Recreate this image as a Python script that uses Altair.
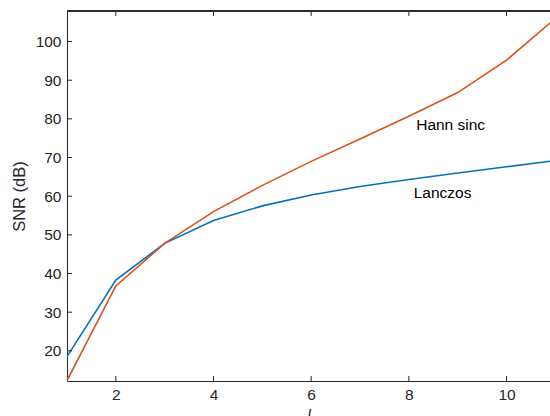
import altair as alt
import pandas as pd

# data
l_values = [1, 2, 3, 4, 5, 6, 7, 8, 9, 10, 11]
lanczos = [18.5, 38.3, 47.8, 53.7, 57.5, 60.3, 62.5, 64.3, 66.0, 67.6, 69.2]
hann = [12.3, 36.8, 47.8, 56.0, 62.8, 69.0, 74.8, 80.7, 86.8, 95.2, 106.0]
series_names = ["Lanczos", "Hann sinc"]
series_colors = ["#0072BD", "#D95319"]

label_text = ["Hann sinc", "Lanczos"]
label_x = [8.15, 8.1]
label_y = [78.4, 60.9]

x_ticks = [2, 4, 6, 8, 10]
y_ticks = [20, 30, 40, 50, 60, 70, 80, 90, 100]

X_DOMAIN = [1, 10.89]
Y_DOMAIN = [12.2, 107.9]
W, H = 483, 370
AX = "#262626"
FONT = "Liberation Sans"

rows = []
for name, vals in zip(series_names, [lanczos, hann]):
    for xv, yv in zip(l_values, vals):
        rows.append({"l": xv, "snr": yv, "series": name})
df = pd.DataFrame(rows)
labels = pd.DataFrame({"text": label_text, "l": label_x, "snr": label_y})
xt = pd.DataFrame({"v": x_ticks})
yt = pd.DataFrame({"v": y_ticks})

xscale = alt.Scale(domain=X_DOMAIN, nice=False, zero=False)
yscale = alt.Scale(domain=Y_DOMAIN, nice=False, zero=False)

xaxis = alt.Axis(values=x_ticks, grid=False, tickSize=0, domainColor=AX, domainWidth=1,
                 labelColor=AX, labelFont=FONT, labelFontSize=15.5, labelPadding=6,
                 title="l", titleFont=FONT, titleFontSize=16, titleFontStyle="italic",
                 titleFontWeight="normal", titleColor=AX, titlePadding=5)
yaxis = alt.Axis(values=y_ticks, grid=False, tickSize=0, domainColor=AX, domainWidth=1,
                 labelColor=AX, labelFont=FONT, labelFontSize=15.5, labelPadding=6,
                 title="SNR (dB)", titleFont=FONT, titleFontSize=16.5, titleFontWeight="normal",
                 titleColor=AX, titlePadding=8)

lines = alt.Chart(df).mark_line(strokeWidth=1.6, clip=True).encode(
    x=alt.X("l:Q", scale=xscale, axis=xaxis),
    y=alt.Y("snr:Q", scale=yscale, axis=yaxis),
    color=alt.Color("series:N", scale=alt.Scale(domain=series_names, range=series_colors), legend=None),
    detail="series:N",
)

text = alt.Chart(labels).mark_text(align="left", baseline="middle", font=FONT, fontSize=15.5, color="#000000").encode(
    x=alt.X("l:Q", scale=xscale),
    y=alt.Y("snr:Q", scale=yscale),
    text="text:N",
)

top_line = alt.Chart(xt).mark_rule(color=AX, strokeWidth=1).encode(
    x=alt.value(0), x2=alt.value(W), y=alt.value(0)
)
xticks_bottom = alt.Chart(xt).mark_rule(color=AX, strokeWidth=1).encode(
    x=alt.X("v:Q", scale=xscale), y=alt.value(H), y2=alt.value(H - 5)
)
xticks_top = alt.Chart(xt).mark_rule(color=AX, strokeWidth=1).encode(
    x=alt.X("v:Q", scale=xscale), y=alt.value(0), y2=alt.value(5)
)
yticks_left = alt.Chart(yt).mark_rule(color=AX, strokeWidth=1).encode(
    y=alt.Y("v:Q", scale=yscale), x=alt.value(0), x2=alt.value(5)
)

chart = alt.layer(lines, text, top_line, xticks_bottom, xticks_top, yticks_left).properties(
    width=W, height=H,
    padding={"left": 67, "top": 11, "right": 0, "bottom": 35},
    autosize=alt.AutoSizeParams(type="none"),
    background="white",
).configure_view(stroke=None)

chart.save("out.html", embed_options={"renderer": "svg", "actions": False})
